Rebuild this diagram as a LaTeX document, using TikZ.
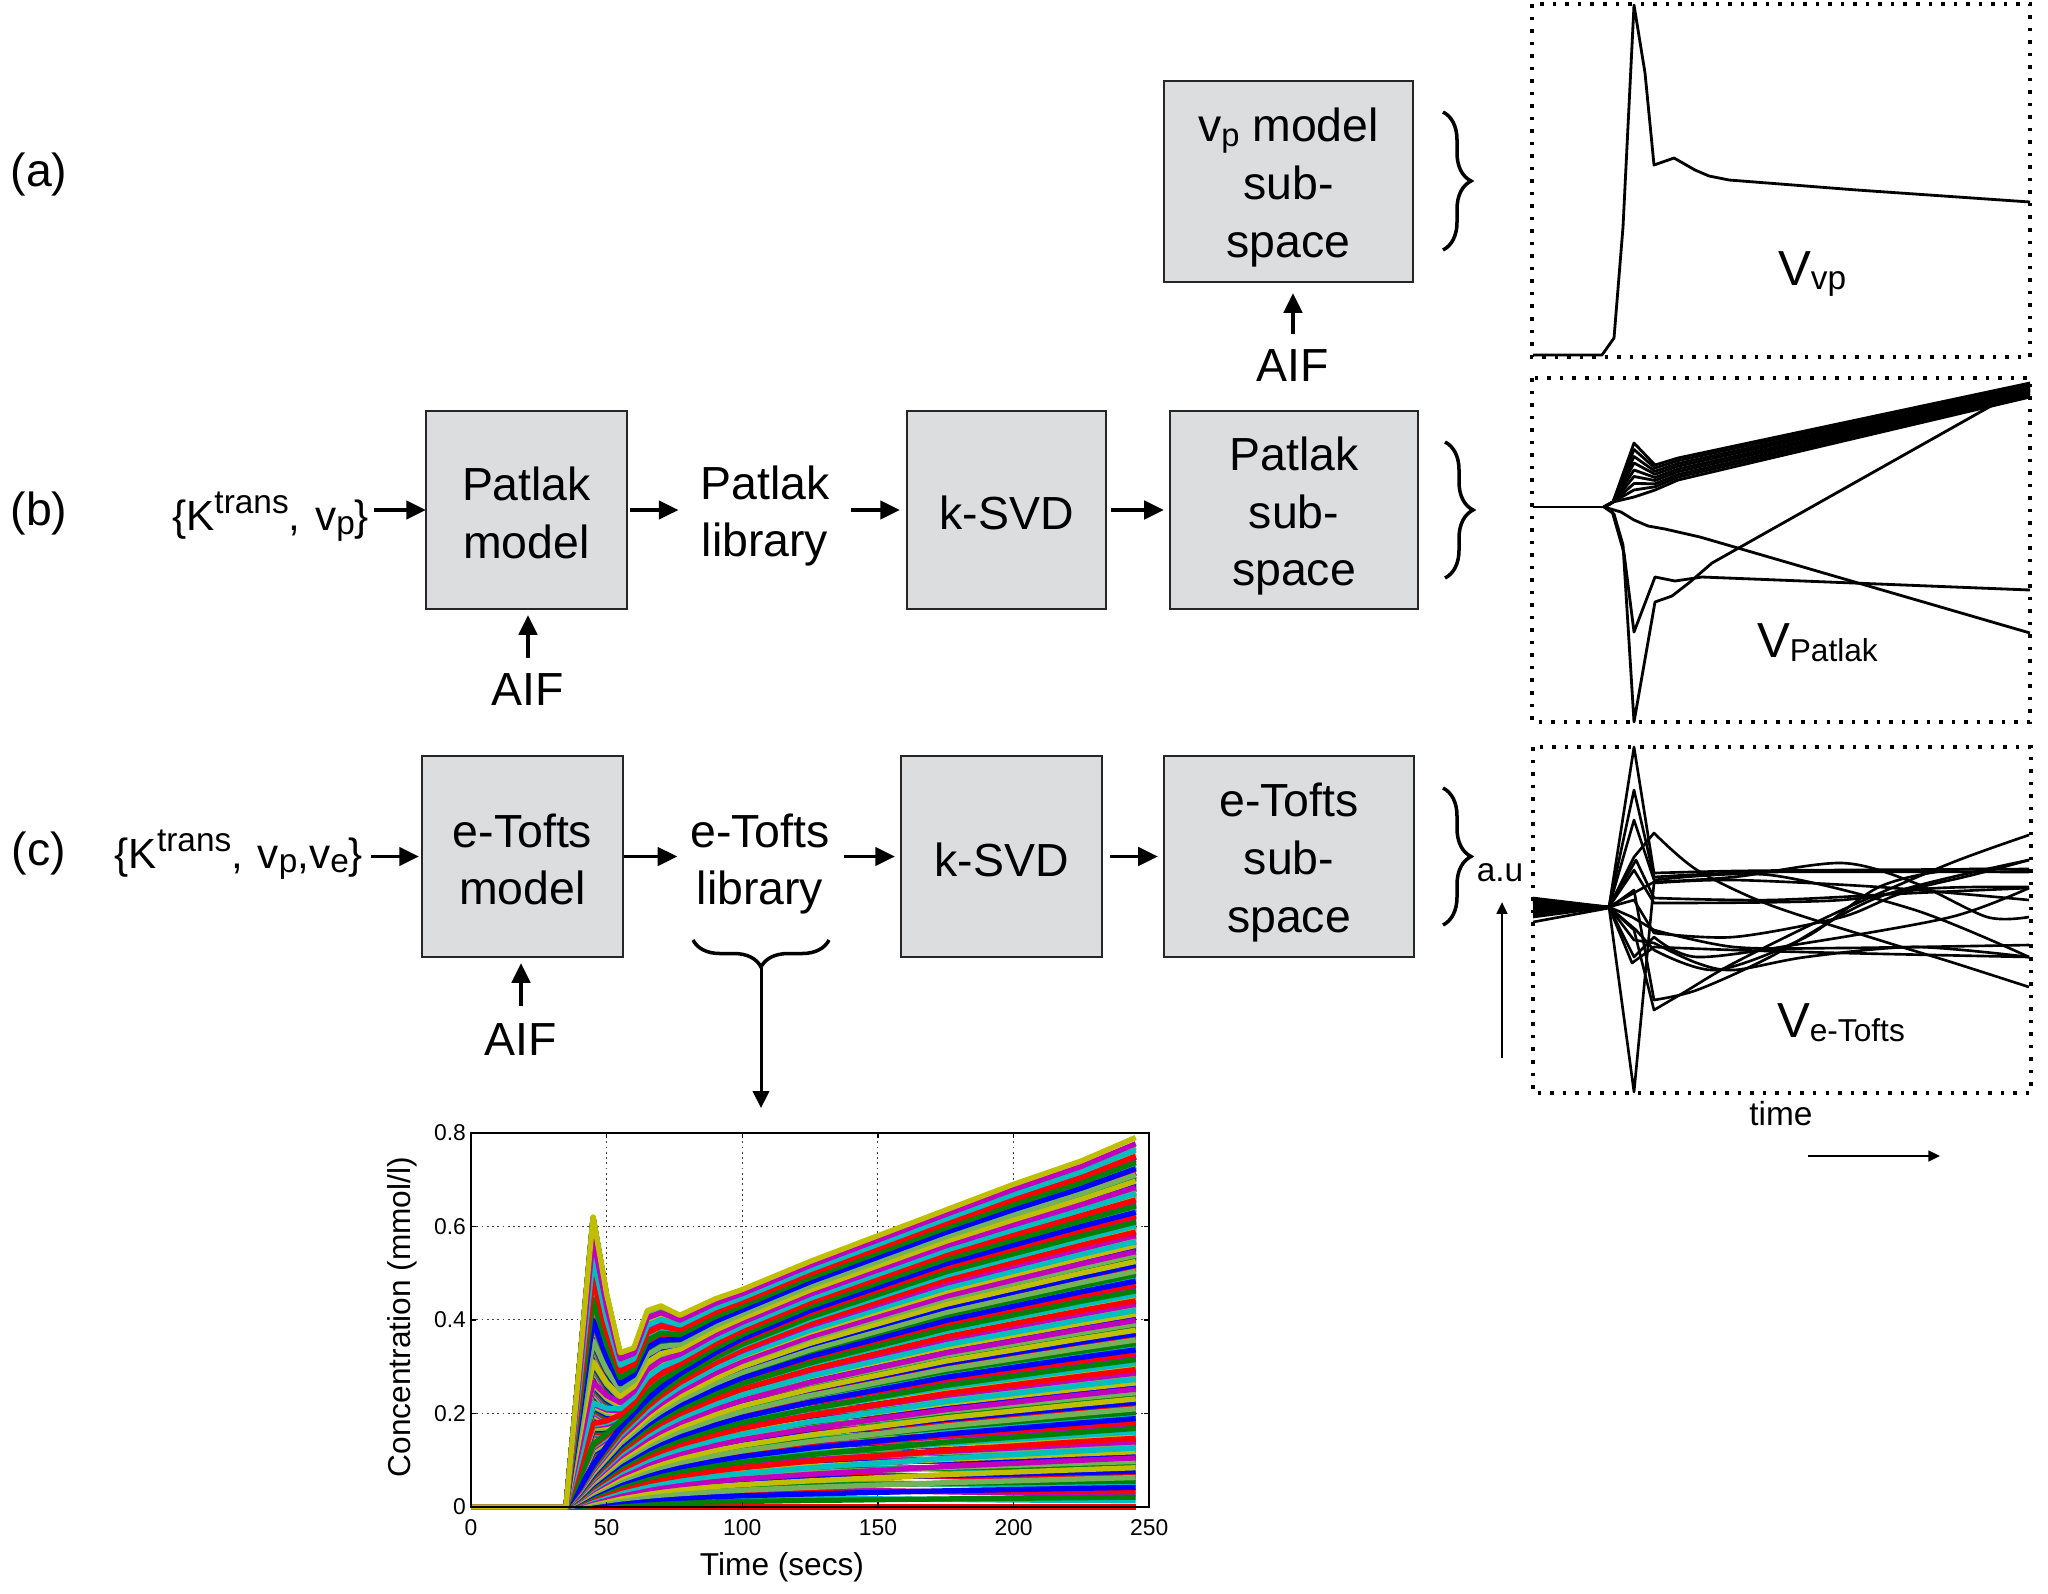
\documentclass[tikz,border=0pt]{standalone}
\usepackage{fontspec}
\setmainfont{Liberation Sans}
\usetikzlibrary{arrows.meta,decorations.pathreplacing}
\definecolor{boxgray}{RGB}{220,221,223}
\definecolor{mc0}{rgb}{0,0,1}
\definecolor{mc1}{rgb}{0,0.5,0}
\definecolor{mc2}{rgb}{1,0,0}
\definecolor{mc3}{rgb}{0,0.75,0.75}
\definecolor{mc4}{rgb}{0.75,0,0.75}
\definecolor{mc5}{rgb}{0.75,0.75,0}
\definecolor{mc6}{rgb}{0.45,0.7,0.35}
\newcommand\supt[2][9.5]{\raisebox{0.4em}{\fontsize{#1}{#1}\selectfont #2}}
\newcommand\subt[2][9.5]{\raisebox{-0.1em}{\fontsize{#1}{#1}\selectfont #2}}
\newcommand\tpa{\rule{0pt}{13pt}}
\newcommand\tpb{\rule{0pt}{11.3pt}}
\begin{document}
\begin{tikzpicture}[x=0.01cm,y=-0.01cm,
  blk/.style={draw=black!85, fill=boxgray, line width=0.6pt, inner sep=0pt, outer sep=0pt, align=center, font=\fontsize{13.2}{16.4}\selectfont},
  lbl/.style={inner sep=0pt, outer sep=0pt, align=center, font=\fontsize{13.2}{16.4}\selectfont},
  inset/.style={inner sep=0pt, outer sep=0pt, font=\fontsize{12}{14}\selectfont, anchor=base east},
  arr/.style={-{Triangle[length=5.6pt,width=5.2pt]}, line width=1pt},
  longarr/.style={-{Triangle[length=4.8pt,width=4.6pt]}, line width=0.85pt},
  thinarr/.style={-{Triangle[length=3.3pt,width=3.1pt]}, line width=0.45pt},
  dotbox/.style={line width=1pt, dash pattern=on 1pt off 2.56pt},
  curve/.style={line width=0.8pt, line join=round},
  brc/.style={decorate, decoration={brace, amplitude=#1}, line width=1pt},
  vlab/.style={inner sep=0pt, outer sep=0pt, font=\fontsize{14}{14}\selectfont, anchor=base west},
  small/.style={inner sep=0pt, outer sep=0pt, font=\fontsize{9.5}{9.5}\selectfont},
  grid/.style={line width=0.3pt, black!75, dash pattern=on 0.5pt off 1pt},
  dat/.style={line width=1.5pt, line join=round},
  tick/.style={inner sep=0pt, font=\fontsize{6.5}{6.5}\selectfont},
  axlab/.style={inner sep=0pt, font=\fontsize{9}{9}\selectfont}
]
\useasboundingbox (0,0) rectangle (2048,1593);

% row labels
\node[lbl] (la) at (39,174) {(a)};
\node[lbl] (lb) at (39,513) {(b)};
\node[lbl] (lc) at (39,853) {(c)};

% boxes
\node[blk, minimum width=2.49cm, minimum height=2.01cm] (vpbox) at (1288.5,181.5) {\tpa v\subt[9.3]{p} model\\sub-\\space};
\node[blk, minimum width=2.01cm, minimum height=1.98cm] (pmodel) at (526.5,510) {\tpb Patlak\\model};
\node[lbl] (plib) at (765,516) {Patlak\\library};
\node[blk, minimum width=1.99cm, minimum height=1.98cm] (pksvd) at (1006.5,510) {\tpb k-SVD};
\node[blk, minimum width=2.48cm, minimum height=1.98cm] (psub) at (1294,510) {\tpa Patlak\\sub-\\space};
\node[blk, minimum width=2.01cm, minimum height=2.01cm] (emodel) at (522.5,856.5) {\tpb e-Tofts\\model};
\node[lbl] (elib) at (760,864) {e-Tofts\\library};
\node[blk, minimum width=2.01cm, minimum height=2.01cm] (eksvd) at (1001.5,856.5) {\tpb k-SVD};
\node[blk, minimum width=2.50cm, minimum height=2.01cm] (esub) at (1289,856.5) {\tpa e-Tofts\\sub-\\space};

% inputs
\node[inset] (pin) at (369,530) {\{K\supt{trans},\hspace{0.35em}v\subt{p}\}};
\node[inset] (ein) at (363,868) {\{K\supt{trans},\hspace{0.35em}v\subt{p},v\subt{e}\}};

% AIF
\node[lbl] (aifa) at (1293,366) {AIF};
\node[lbl] (aifb) at (528,690) {AIF};
\node[lbl] (aifc) at (521,1040) {AIF};
\draw[arr, shorten <=0.165cm, shorten >=0.11cm] (aifa.north) -- (aifa.north |- vpbox.south);
\draw[arr, shorten <=0.165cm, shorten >=0.06cm] (aifb.north) -- (aifb.north |- pmodel.south);
\draw[arr, shorten <=0.185cm, shorten >=0.06cm] (aifc.north) -- (aifc.north |- emodel.south);

% row arrows
\draw[arr, shorten <=0.05cm] (pin.east |- pmodel.west) -- (pmodel.west);
\draw[arr, shorten <=0.03cm, shorten >=0.22cm] (pmodel.east) -- (plib.west |- pmodel.east);
\draw[arr, shorten <=0.21cm, shorten >=0.07cm] (plib.east |- pksvd.west) -- (pksvd.west);
\draw[arr, shorten <=0.05cm, shorten >=0.06cm] (pksvd.east) -- (psub.west);
\draw[arr, shorten <=0.08cm, shorten >=0.03cm] (ein.east |- emodel.west) -- (emodel.west);
\draw[arr, shorten <=0.01cm, shorten >=0.13cm] (emodel.east) -- (elib.west |- emodel.east);
\draw[arr, shorten <=0.14cm, shorten >=0.06cm] (elib.east |- eksvd.west) -- (eksvd.west);
\draw[arr, shorten <=0.08cm, shorten >=0.06cm] (eksvd.east) -- (esub.west);

% right braces
\draw[brc=0.28cm] (1443,112) -- (1443,250);
\draw[brc=0.28cm] (1445,442) -- (1445,578);
\draw[brc=0.28cm] (1443,788) -- (1443,925);

% library brace and arrow to plot
\draw[brc=0.27cm] (829,940) -- (693,940);
\coordinate (btip) at (761,968);
\coordinate (ptop) at (761,1108);
\draw[longarr] (btip) -- (ptop);

% dotted boxes
\draw[dotbox] (1532,4) rectangle (2030,357);
\draw[dotbox] (1532,378) rectangle (2030,722);
\draw[dotbox] (1533,747) rectangle (2031,1093);

% V_vp curve
\draw[curve] (1533,355) -- (1602,355) -- (1614,338) -- (1623,227) -- (1634,5) -- (1645,73) -- (1654,165) -- (1674,158) -- (1695,170) -- (1709,176) -- (1729,180) -- (1857,190) -- (2030,202);
\node[vlab] (vvp) at (1778,285) {V\subt[9.5]{vp}};

% V_Patlak curves
\draw[curve] (1533,507) -- (1604,507);
\foreach \s in {0,0.12,0.25,0.37,0.5,0.62,0.75,0.87,1}{
  \draw[curve] (1604,507) -- (1613,502) -- (1634,{443+54*\s}) -- (1655,{465+25*\s}) -- (1678,{458+22*\s}) -- (2030,{383+14*\s});
}
\draw[curve] (1604,507) -- (1614,514) -- (1623,545) -- (1634,722) -- (1655,602) -- (1672,596) -- (1690,582) -- (1712,563) -- (1998,402) -- (2030,390);
\draw[curve] (1604,507) -- (1612,511) -- (1624,553) -- (1634,632) -- (1655,577) -- (1675,581) -- (1702,577) -- (2030,590);
\draw[curve] (1604,507) -- (1621,512) -- (1634,520) -- (1648,526) -- (1665,529) -- (1700,537) -- (2030,633);
\node[vlab] (vpat) at (1757,657) {V\subt[9]{Patlak}};

% V_e-Tofts curves
\begin{scope}[curve, line width=0.75pt]
\draw (1533,900) -- (1609,907) -- (1634,747) -- (1654,873) -- plot[smooth] coordinates {(1654,873) (1734,871) (1842,870) (2029,869)};
\draw (1533,903) -- (1609,907) -- (1634,790) -- (1654,877) -- plot[smooth] coordinates {(1654,877) (1770,872) (2029,872)};
\draw (1533,910) -- (1609,907) -- (1634,1092) -- (1654,883) -- plot[smooth] coordinates {(1654,883) (1734,880) (1879,887) (2029,900)};
\draw (1533,913) -- (1609,907) -- (1634,857) -- (1654,833) -- plot[smooth] coordinates {(1654,833) (1697,870) (1770,905) (1879,940) (1951,962) (2029,987)};
\draw (1533,917) -- (1609,907) -- (1634,930) -- (1654,1010) -- plot[smooth] coordinates {(1654,1010) (1683,993) (1734,963) (1842,910) (1951,863) (2029,835)};
\draw (1533,922) -- (1609,908) -- (1634,890) -- (1654,1000) -- plot[smooth] coordinates {(1654,1000) (1697,990) (1770,957) (1879,897) (2029,860)};
\draw (1533,898) -- (1609,907) -- (1636,860) -- (1654,898) -- plot[smooth] coordinates {(1654,898) (1770,900) (1915,893) (2029,888)};
\draw (1533,902) -- (1609,907) -- (1632,917) -- (1654,930) -- plot[smooth] coordinates {(1654,930) (1734,947) (1842,948) (2029,945)};
\draw (1533,907) -- (1609,907) -- (1634,957) -- (1654,937) -- plot[smooth] coordinates {(1654,937) (1697,957) (1806,943) (1951,917) (2029,888)};
\draw (1533,908) -- (1609,907) -- (1632,963) -- (1654,947) -- plot[smooth] coordinates {(1654,947) (1734,950) (1842,953) (2029,957)};
\draw (1533,912) -- (1609,907) -- (1636,930) -- (1654,950) -- plot[smooth] coordinates {(1654,950) (1716,970) (1806,937) (1879,887) (1951,870) (2029,870)};
\draw (1533,905) -- (1609,907) -- (1630,895) -- (1654,882) -- plot[smooth] coordinates {(1654,882) (1734,877) (1842,863) (1915,883) (1987,917) (2029,917)};
\draw (1533,906) -- (1609,907) -- (1634,900) -- (1654,933) -- plot[smooth] coordinates {(1654,933) (1734,937) (1842,917) (1915,890) (2029,887)};
\draw (1533,915) -- (1609,907) -- (1634,940) -- (1654,943) -- plot[smooth] coordinates {(1654,943) (1697,963) (1734,970) (1806,957) (1915,947) (2029,957)};
\draw (1533,909) -- (1609,907) -- (1634,870) -- (1654,903) -- plot[smooth] coordinates {(1654,903) (1842,900) (1951,880) (2029,860)};
\draw (1533,901) -- (1609,907) -- (1634,820) -- (1654,880) -- plot[smooth] coordinates {(1654,880) (1770,875) (1915,910) (2029,957)};
\end{scope}
\node[vlab] (vet) at (1777,1037) {V\subt[9]{e-Tofts}};

% a.u and time
\node[small] (au) at (1500,873) {a.u};
\coordinate (aubot) at (1502,1058);
\draw[thinarr, shorten >=0.2cm] (aubot) -- (aubot |- au.south);
\node[small] (time) at (1781,1114) {time};
\coordinate (t0) at (1808,1156);
\coordinate (t1) at (1940,1156);
\draw[thinarr] (t0) -- (t1);

% concentration plot
\begin{scope}[shift={(471,1507)}, x=0.02712cm, y=4.675cm]
  \foreach \t in {50,100,150,200} \draw[grid] (\t,0) -- (\t,0.8);
  \foreach \v in {0.2,0.4,0.6} \draw[grid] (0,\v) -- (250,\v);
  \foreach \g in {0,...,30}{
    \foreach \f in {0,...,12}{
      \pgfmathsetmacro\F{\f/12}
      \pgfmathsetmacro\H{(\g/30)*(1-\F)}
      \pgfmathsetmacro\K{(\g/30)*\F}
      \pgfmathtruncatemacro\ci{mod(\g*13+\f+2,7)}
      \draw[dat, draw=mc\ci] (0,0) -- (35,0)
        -- (40,{0.30*\F+0.005*\K+0.04*\H})
        -- (45,{0.60*\F+0.02*\K+0.09*\H})
        -- (50,{0.42*\F+0.035*\K+0.13*\H})
        -- (55,{0.28*\F+0.05*\K+0.17*\H})
        -- (60,{0.27*\F+0.07*\K+0.20*\H})
        -- (65,{0.33*\F+0.09*\K+0.23*\H})
        -- (70,{0.32*\F+0.11*\K+0.255*\H})
        -- (77,{0.27*\F+0.14*\K+0.285*\H})
        -- (90,{0.255*\F+0.19*\K+0.33*\H})
        -- (100,{0.245*\F+0.22*\K+0.36*\H})
        -- (125,{0.225*\F+0.30*\K+0.42*\H})
        -- (150,{0.21*\F+0.37*\K+0.47*\H})
        -- (175,{0.195*\F+0.44*\K+0.52*\H})
        -- (200,{0.18*\F+0.51*\K+0.56*\H})
        -- (225,{0.17*\F+0.57*\K+0.60*\H})
        -- (245,{0.16*\F+0.63*\K+0.63*\H});
    }
  }
  \draw[line width=0.5pt] (0,0) rectangle (250,0.8);
  \foreach \t in {50,100,150,200}{
    \draw[line width=0.4pt] (\t,0) -- (\t,0.011);
    \draw[line width=0.4pt] (\t,0.8) -- (\t,0.789);
  }
  \foreach \v in {0.2,0.4,0.6}{
    \draw[line width=0.4pt] (0,\v) -- (1.9,\v);
    \draw[line width=0.4pt] (250,\v) -- (248.1,\v);
  }
  \foreach \t in {0,50,100,150,200,250} \node[tick] at (\t,-0.043) {\t};
  \foreach \v/\s in {0/0,0.2/0.2,0.4/0.4,0.6/0.6,0.8/0.8} \node[tick, anchor=east] at (-1.6,\v) {\s};
\end{scope}
\node[axlab] (xlab) at (782,1567) {Time (secs)};
\node[axlab, rotate=90] (ylab) at (402,1317) {Concentration (mmol/l)};
\end{tikzpicture}
\end{document}
